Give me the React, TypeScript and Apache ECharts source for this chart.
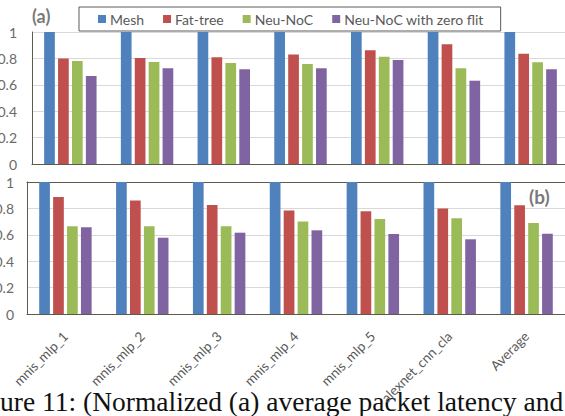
import React, { useEffect, useRef } from "react";
import * as echarts from "echarts";

const categories = ["mnis_mlp_1", "mnis_mlp_2", "mnis_mlp_3", "mnis_mlp_4", "mnis_mlp_5", "alexnet_cnn_cla", "Average"];
const seriesNames = ["Mesh", "Fat-tree", "Neu-NoC", "Neu-NoC with zero flit"];
const colors = ["#4F81BD", "#C0504D", "#9BBB59", "#8064A2"];

// (a) normalized average packet latency
const aMesh = [1, 1, 1, 1, 1, 1, 1];
const aFatTree = [0.8, 0.803, 0.808, 0.83, 0.861, 0.907, 0.836];
const aNeuNoC = [0.78, 0.773, 0.765, 0.758, 0.813, 0.725, 0.77];
const aZeroFlit = [0.667, 0.725, 0.717, 0.725, 0.788, 0.631, 0.717];

// (b)
const bMesh = [1, 1, 1, 1, 1, 1, 1];
const bFatTree = [0.886, 0.859, 0.826, 0.785, 0.778, 0.8, 0.823];
const bNeuNoC = [0.664, 0.664, 0.664, 0.7, 0.72, 0.725, 0.689];
const bZeroFlit = [0.657, 0.578, 0.616, 0.634, 0.606, 0.566, 0.608];

const yTicks = [0, 0.2, 0.4, 0.6, 0.8, 1];

const FONT = 'Lato, "Open Sans", sans-serif';
const AXIS_COLOR = "#5c5c4c";
const LABEL_COLOR = "#6a6a6a";

export default function App() {
  const ref = useRef<HTMLDivElement>(null);
  useEffect(() => {
    if (!ref.current) return;
    const chart = echarts.init(ref.current, undefined, { renderer: "svg" });
    const aData = [aMesh, aFatTree, aNeuNoC, aZeroFlit];
    const bData = [bMesh, bFatTree, bNeuNoC, bZeroFlit];
    const mkSeries = (data: number[][], idx: number) =>
      data.map((d, i) => ({
        name: seriesNames[i],
        type: "bar",
        xAxisIndex: idx === 0 ? 0 : 1,
        yAxisIndex: idx,
        data: d,
        barWidth: 10.7,
        barGap: "30%",
        itemStyle: { color: colors[i] },
      }));
    const yAxisBase = (gridIndex: number, margin: number) => ({
      gridIndex,
      type: "value",
      min: yTicks[0],
      max: yTicks[yTicks.length - 1],
      interval: 0.2,
      axisLine: { show: true, lineStyle: { color: AXIS_COLOR, width: 1 } },
      axisTick: { show: false },
      splitLine: { show: true, lineStyle: { color: "#d9d9d9", width: 1 } },
      axisLabel: {
        margin,
        fontSize: 14,
        color: LABEL_COLOR,
        fontFamily: FONT,
        formatter: (v: number) => String(Math.round(v * 10) / 10),
      },
    });
    chart.setOption({
      animation: false,
      backgroundColor: "#ffffff",
      legend: {
        data: seriesNames,
        left: 79,
        top: 7,
        padding: [5, 17, 5, 19],
        itemGap: 19,
        itemWidth: 8,
        itemHeight: 8,
        icon: "rect",
        borderColor: "#5a5a5a",
        borderWidth: 1,
        backgroundColor: "#ffffff",
        textStyle: { fontSize: 14, color: "#595959", fontFamily: FONT, padding: [0, 0, 0, -1] },
      },
      grid: [
        { left: 32, top: 32, right: -4, height: 132, outerBoundsMode: "none", containLabel: false },
        { left: 27, top: 182, right: 0, height: 132, outerBoundsMode: "none", containLabel: false },
      ],
      xAxis: [
        {
          gridIndex: 0,
          type: "category",
          data: categories,
          axisLine: { show: true, lineStyle: { color: AXIS_COLOR, width: 1.2 } },
          axisTick: { show: false },
          axisLabel: { show: false },
        },
        {
          gridIndex: 1,
          type: "category",
          data: categories,
          axisLine: { show: true, lineStyle: { color: AXIS_COLOR, width: 1.2 } },
          axisTick: { show: false },
          axisLabel: {
            rotate: 45,
            margin: 20,
            fontSize: 13.5,
            color: "#595959",
            fontFamily: FONT,
            interval: 0,
          },
        },
        {
          gridIndex: 1,
          type: "category",
          position: "top",
          data: categories,
          axisLine: { show: true, lineStyle: { color: AXIS_COLOR, width: 1.2 } },
          axisTick: { show: false },
          axisLabel: { show: false },
        },
      ],
      yAxis: [yAxisBase(0, 15), yAxisBase(1, 13)],
      series: [...mkSeries(aData, 0), ...mkSeries(bData, 1)],
      graphic: [
        {
          type: "text",
          left: 32,
          top: 7,
          style: { text: "(a)", font: `bold 18px ${FONT}`, fill: "#7a7a7a" },
        },
        {
          type: "text",
          left: 529,
          top: 187,
          style: { text: "(b)", font: `bold 19px ${FONT}`, fill: "#7a7a7a" },
        },
        {
          type: "text",
          left: 0,
          top: 387,
          style: {
            text: "ure 11: (Normalized (a) average packet latency and",
            font: '27.5px "Liberation Serif", serif',
            fill: "#111111",
          },
        },
      ],
    });
    return () => chart.dispose();
  }, []);
  return (
    <div
      ref={ref}
      style={{ position: "absolute", left: 0, top: 0, width: 565, height: 416 }}
    />
  );
}
